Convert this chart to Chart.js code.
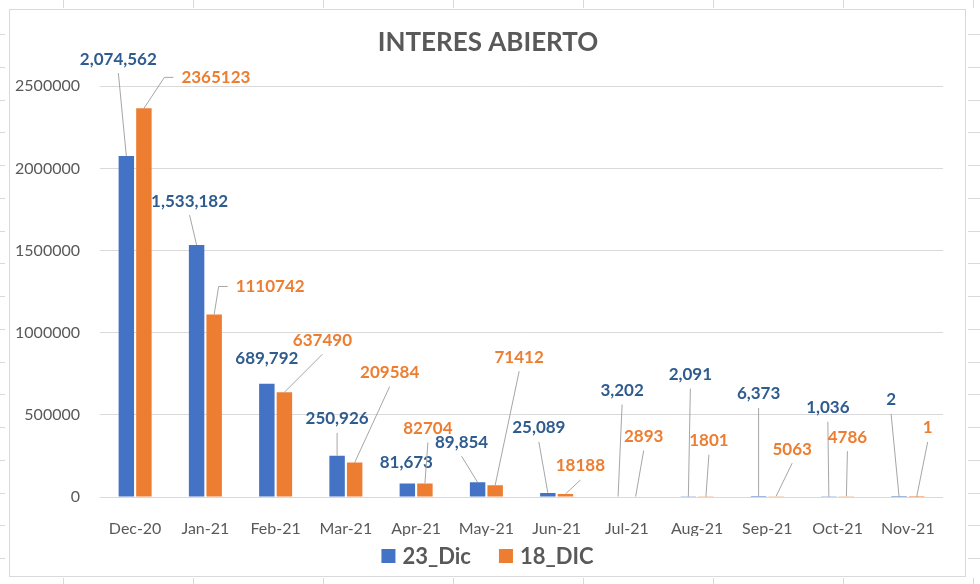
<!DOCTYPE html>
<html>
<head>
<meta charset="utf-8">
<script src="https://cdn.jsdelivr.net/npm/chart.js@4/dist/chart.umd.min.js"></script>
<style>
  html, body { margin: 0; padding: 0; background: #fff; }
  #wrap { width: 980px; height: 584px; }
</style>
</head>
<body>
<div id="wrap"><canvas id="chart" width="980" height="584"></canvas></div>
<script>
// ── Data ─────────────────────────────────────────────────────────
const months = ["Dec-20", "Jan-21", "Feb-21", "Mar-21", "Apr-21", "May-21",
                "Jun-21", "Jul-21", "Aug-21", "Sep-21", "Oct-21", "Nov-21"];
const dic23 = [2074562, 1533182, 689792, 250926, 81673, 89854, 25089, 3202, 2091, 6373, 1036, 2];
const dic18 = [2365123, 1110742, 637490, 209584, 82704, 71412, 18188, 2893, 1801, 5063, 4786, 1];
const yMax = 2500000;
const yStep = 500000;

// ── Label placement (px offset from bar top, leader type) ────────
// 'b' = leader from under the label, 'l' = elbow from the left side, null = none
const labelPos23 = [
  [-8, -97, "b"], [-7, -44, "b"], [0, -25, null], [0, -37, "b"],
  [-1, -21, null], [-16, -40, "b"], [-9, -65, "b"], [4, -106, "b"],
  [2, -122, "b"], [0, -102, "b"], [-1, -89, "b"], [-8, -97, "b"],
];
const labelPos18 = [
  [72, -31, "l"], [56, -28, "l"], [38, -52, "b"], [35, -90, "b"],
  [3, -55, "b"], [24, -128, "b"], [15, -28, "b"], [8, -60, "b"],
  [3, -56, "b"], [16, -47, "b"], [1, -59, "b"], [11, -69, "b"],
];

const FONT = "Lato, 'Open Sans', sans-serif";
const GREY = "#595959";

// ── Sheet background: chart border + spreadsheet cell ticks ──────
const sheetPlugin = {
  id: "sheet",
  beforeDraw(chart) {
    const ctx = chart.ctx;
    ctx.save();
    ctx.fillStyle = "#fff";
    ctx.fillRect(0, 0, chart.width, chart.height);
    ctx.strokeStyle = "#D9D9D9";
    ctx.lineWidth = 1;
    ctx.strokeRect(9.5, 9.5, 956, 567);
    ctx.beginPath();
    for (let x = 63; x < 980; x += 130) {
      ctx.moveTo(x + 0.5, 0); ctx.lineTo(x + 0.5, 8);
      ctx.moveTo(x + 0.5, 578); ctx.lineTo(x + 0.5, 584);
    }
    for (let k = 0; k < 17; k++) {
      const y = Math.round(34 + 32.75 * k) + 0.5;
      ctx.moveTo(0, y); ctx.lineTo(5, y);
      ctx.moveTo(968, y); ctx.lineTo(980, y);
    }
    ctx.stroke();
    ctx.restore();
  },
};

// ── Data labels with leader lines ────────────────────────────────
const labelPlugin = {
  id: "barLabels",
  afterDatasetsDraw(chart) {
    const ctx = chart.ctx;
    const sets = [
      { pos: labelPos23, color: "#2F5C8F", fmt: v => v.toLocaleString("en-US") },
      { pos: labelPos18, color: "#ED7D31", fmt: v => String(v) },
    ];
    ctx.save();
    ctx.font = "bold 17px " + FONT;
    ctx.textAlign = "center";
    ctx.textBaseline = "middle";
    sets.forEach((s, di) => {
      const meta = chart.getDatasetMeta(di);
      const values = chart.data.datasets[di].data;
      meta.data.forEach((bar, i) => {
        const [dx, dy, kind] = s.pos[i];
        const lx = bar.x + dx, ly = bar.y + dy;
        const text = s.fmt(values[i]);
        if (kind) {
          ctx.strokeStyle = "#A6A6A6";
          ctx.lineWidth = 1;
          ctx.beginPath();
          if (kind === "l") {
            const left = lx - ctx.measureText(text).width / 2;
            ctx.moveTo(left - 8, ly);
            ctx.lineTo(left - 17, ly);
          } else {
            ctx.moveTo(lx, ly + 14);
          }
          ctx.lineTo(bar.x, bar.y);
          ctx.stroke();
        }
        ctx.fillStyle = s.color;
        ctx.fillText(text, lx, ly);
      });
    });
    ctx.restore();
  },
};

// ── Legend, Excel style (square + bold name), centred on the chart box ──
const legendPlugin = {
  id: "sheetLegend",
  afterDraw(chart) {
    const ctx = chart.ctx;
    const box = 14, gap = 7, itemGap = 28, cy = 556, cx = 487.5;
    ctx.save();
    ctx.font = "bold 22px " + FONT;
    ctx.textBaseline = "middle";
    const items = chart.data.datasets.map(d => ({
      text: d.label, color: d.backgroundColor, w: ctx.measureText(d.label).width,
    }));
    const total = items.reduce((a, it) => a + box + gap + it.w, 0) + itemGap * (items.length - 1);
    let x = cx - total / 2;
    items.forEach(it => {
      ctx.fillStyle = it.color;
      ctx.fillRect(x, cy - box / 2, box, box);
      ctx.fillStyle = GREY;
      ctx.fillText(it.text, x + box + gap, cy + 1);
      x += box + gap + it.w + itemGap;
    });
    ctx.restore();
  },
};

new Chart(document.getElementById("chart"), {
  type: "bar",
  data: {
    labels: months,
    datasets: [
      { label: "23_Dic", data: dic23, backgroundColor: "#4472C4",
        categoryPercentage: 0.5, barPercentage: 0.88 },
      { label: "18_DIC", data: dic18, backgroundColor: "#ED7D31",
        categoryPercentage: 0.5, barPercentage: 0.88 },
    ],
  },
  options: {
    responsive: false,
    animation: false,
    layout: { padding: { top: 10, left: 10, right: 14, bottom: 48 } },
    plugins: {
      title: {
        display: true,
        text: "INTERES ABIERTO",
        color: GREY,
        font: { family: FONT, size: 26, weight: "bold" },
        padding: { top: 17, bottom: 28 },
      },
      legend: { display: false },
      tooltip: { enabled: false },
    },
    scales: {
      x: {
        grid: { display: false },
        border: { display: false },
        ticks: { color: GREY, padding: 14, font: { family: FONT, size: 16 } },
        afterFit(s) { s.height = 39; },
      },
      y: {
        min: 0,
        max: yMax,
        grid: { color: "#D9D9D9", drawTicks: false },
        border: { display: false },
        ticks: {
          stepSize: yStep,
          color: GREY,
          padding: 20,
          font: { family: FONT, size: 16 },
          callback: v => String(v),
        },
        afterFit(s) { s.width = 90; },
      },
      yR: {
        position: "right",
        grid: { display: false, drawTicks: false },
        border: { display: false },
        ticks: { display: false },
        afterFit(s) { s.width = 23; },
      },
    },
  },
  plugins: [sheetPlugin, labelPlugin, legendPlugin],
});
</script>
</body>
</html>
